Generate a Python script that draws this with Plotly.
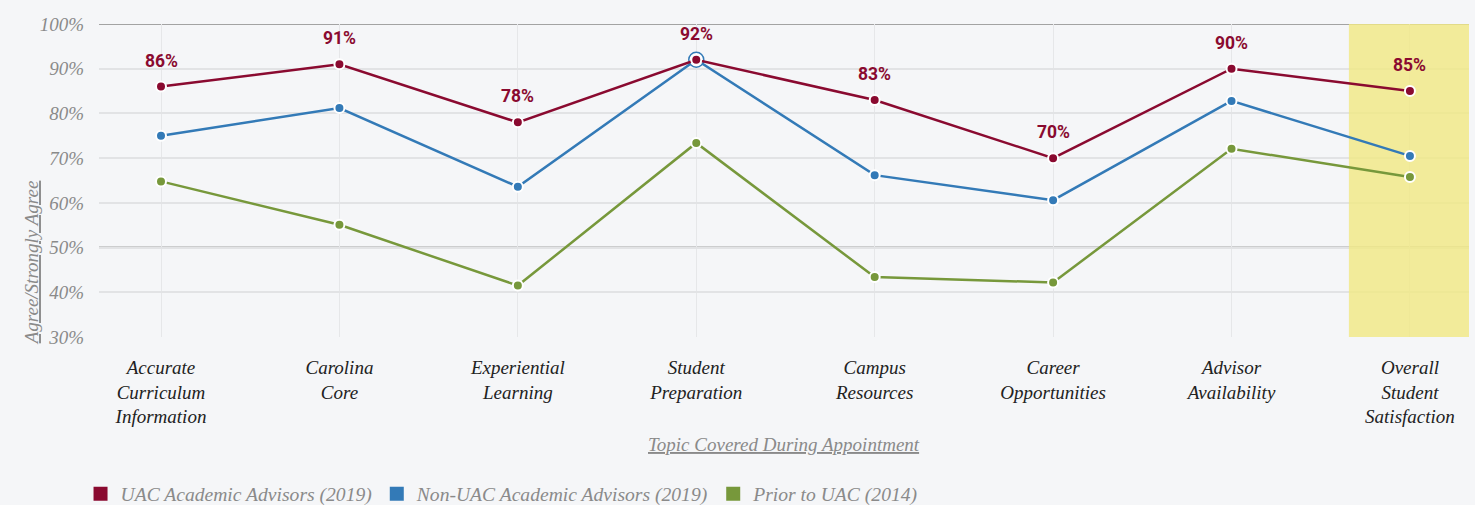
import plotly.graph_objects as go

# Topics (x categories), multi-line labels
categories = [
    "Accurate<br>Curriculum<br>Information",
    "Carolina<br>Core",
    "Experiential<br>Learning",
    "Student<br>Preparation",
    "Campus<br>Resources",
    "Career<br>Opportunities",
    "Advisor<br>Availability",
    "Overall<br>Student<br>Satisfaction",
]

# Percent agree / strongly agree per group
uac_2019 = [86, 91, 78, 92, 83, 70, 90, 85]
non_uac_2019 = [75, 81.2, 63.6, 92, 66.2, 60.6, 82.8, 70.5]
prior_2014 = [64.8, 55.1, 41.5, 73.4, 43.4, 42.2, 72.1, 65.8]

series_names = [
    "UAC Academic Advisors (2019)",
    "Non-UAC Academic Advisors (2019)",
    "Prior to UAC (2014)",
]
y_ticks = [30, 40, 50, 60, 70, 80, 90, 100]
y_tick_labels = [f"{v}%" for v in y_ticks]

RED = "#8a0a30"
BLUE = "#337ab7"
GREEN = "#77983b"
BG = "#f5f6f8"
SERIF = "Liberation Serif"
LABEL_FONT = "Roboto"

fig = go.Figure()

# highlighted "overall" column
fig.add_shape(type="rect", xref="x", yref="y", x0=6.658, x1=7.331, y0=30, y1=100,
              fillcolor="rgba(241,232,130,0.80)", line_width=0, layer="between")
# emphasised reference lines
for ref in (100, 50):
    fig.add_shape(type="line", xref="paper", yref="y", x0=0, x1=1, y0=ref, y1=ref,
                  line=dict(color="#a3a3a3", width=2), layer="between")


def line_trace(values, color, name):
    return go.Scatter(
        x=categories, y=values, mode="lines+markers", name=name, showlegend=False,
        line=dict(color=color, width=2.5),
        marker=dict(color=color, size=10, line=dict(color="white", width=2)),
        hoverinfo="skip",
    )


fig.add_trace(line_trace(prior_2014, GREEN, series_names[2]))
fig.add_trace(line_trace(non_uac_2019, BLUE, series_names[1]))
# hover ring on the Student Preparation point of the blue series
fig.add_trace(go.Scatter(
    x=[categories[3]], y=[non_uac_2019[3]], mode="markers", showlegend=False,
    marker=dict(color="white", size=15, line=dict(color=BLUE, width=1.5)),
    hoverinfo="skip",
))
fig.add_trace(line_trace(uac_2019, RED, series_names[0]))

# legend entries drawn as squares
for name, color in zip(series_names, (RED, BLUE, GREEN)):
    fig.add_trace(go.Scatter(
        x=[None], y=[None], mode="markers", name=name,
        marker=dict(symbol="square", size=14, color=color),
    ))

# value labels above UAC points
for cat, v in zip(categories, uac_2019):
    fig.add_annotation(
        x=cat, y=v, text=f"{v}%", showarrow=False, yshift=26,
        font=dict(family=LABEL_FONT, size=17.5, color=RED, weight="bold"),
    )

# axis titles
fig.add_annotation(
    xref="paper", yref="paper", x=0.5, y=-0.345, showarrow=False,
    xanchor="center", yanchor="middle",
    text="<u>Topic Covered During Appointment</u>",
    font=dict(family=SERIF, size=19, color="#8a8a8a", style="italic"),
)
fig.add_annotation(
    xref="paper", yref="paper", x=-0.0495, y=0.236, showarrow=False, textangle=-90,
    xanchor="center", yanchor="middle",
    text="<u>Agree/Strongly Agree</u>",
    font=dict(family=SERIF, size=19, color="#8a8a8a", style="italic"),
)

fig.update_layout(
    width=1475, height=505,
    margin=dict(l=99, r=6, t=24, b=168),
    paper_bgcolor=BG, plot_bgcolor=BG,
    showlegend=True,
    legend=dict(
        orientation="h",
        xref="container", x=0.0546, xanchor="left",
        yref="container", y=0.022, yanchor="middle",
        font=dict(family=SERIF, size=19.6, color="#8a8a8a", style="italic"),
        bgcolor="rgba(0,0,0,0)", itemclick=False,
    ),
    hovermode=False,
)

fig.update_xaxes(
    type="category", range=[-0.3475, 7.331],
    showgrid=True, gridcolor="#e6e7e9", gridwidth=1,
    showline=False, zeroline=False, ticks="",
    tickfont=dict(family=SERIF, size=19, color="#222222", style="italic"),
    ticklabelstandoff=17,
)
fig.update_yaxes(
    range=[30, 100], tickvals=y_ticks, ticktext=y_tick_labels,
    showgrid=True, gridcolor="#e2e3e5", gridwidth=2,
    zeroline=False, showline=False, ticks="",
    tickfont=dict(family=SERIF, size=19, color="#8a8a8a", style="italic"),
    ticklabelstandoff=14,
)

fig.write_html("out.html")
